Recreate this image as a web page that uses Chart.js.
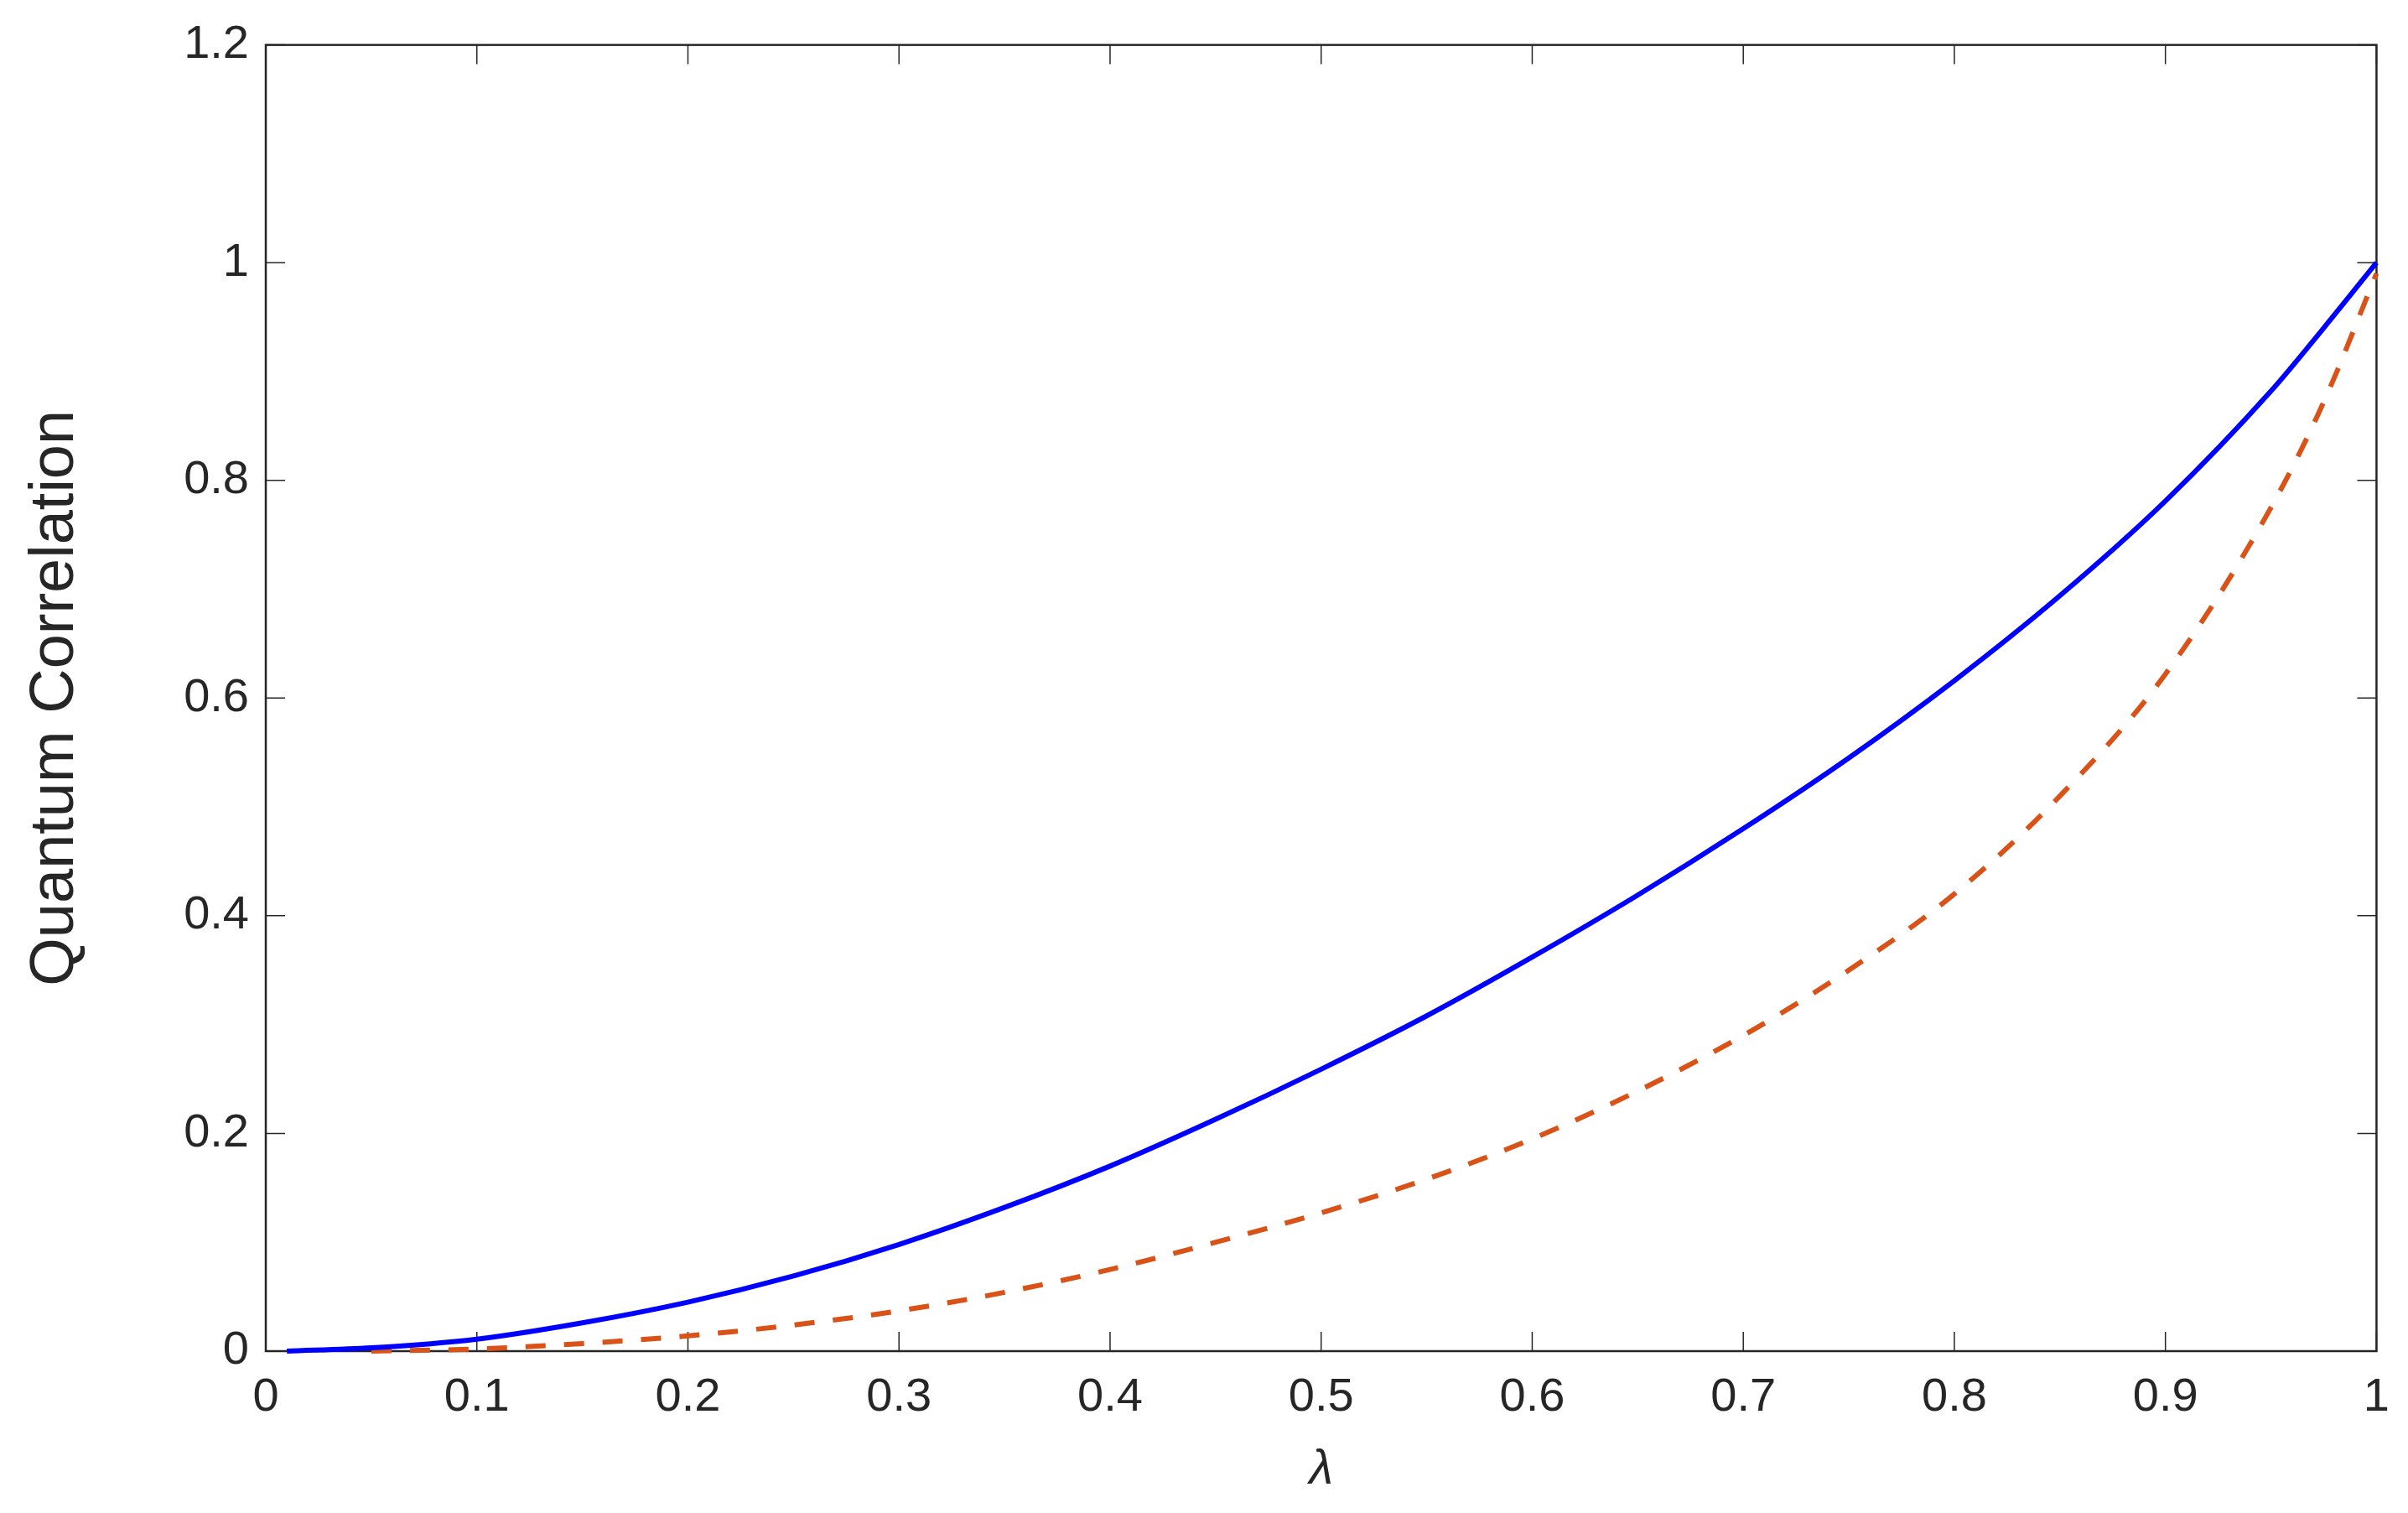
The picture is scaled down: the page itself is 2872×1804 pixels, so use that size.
<!DOCTYPE html>
<html lang="en">
<head>
    <meta charset="UTF-8">
    <title>Quantum Correlation vs lambda</title>
    <script src="https://cdn.jsdelivr.net/npm/chart.js@4.4.4/dist/chart.umd.min.js"></script>
    <style>
        html, body {
            margin: 0;
            padding: 0;
            background-color: #ffffff;
        }
        #chart-container {
            width: 2872px;
            height: 1804px;
        }
    </style>
</head>
<body>
    <div id="chart-container">
        <canvas id="qc-chart"></canvas>
    </div>

    <script>
        // Solid blue curve
        const blueLambda = [0.01, 0.05, 0.1, 0.15, 0.2, 0.25, 0.3, 0.35, 0.4, 0.45, 0.5,
                            0.55, 0.6, 0.65, 0.7, 0.75, 0.8, 0.85, 0.9, 0.95, 0.975, 1.0];
        const blueValues = [0.0, 0.003, 0.011, 0.026, 0.045, 0.069, 0.098, 0.132, 0.17, 0.213, 0.259,
                            0.308, 0.362, 0.419, 0.48, 0.545, 0.616, 0.694, 0.781, 0.882, 0.94, 1.0];

        // Dashed orange curve
        const redLambda = [0.05, 0.1, 0.15, 0.2, 0.25, 0.3, 0.35, 0.4, 0.45, 0.5, 0.55,
                           0.6, 0.65, 0.7, 0.75, 0.8, 0.85, 0.9, 0.95, 0.975, 1.0];
        const redValues = [0.0, 0.002, 0.007, 0.014, 0.024, 0.037, 0.054, 0.075, 0.1, 0.127, 0.158,
                           0.195, 0.239, 0.29, 0.35, 0.42, 0.51, 0.622, 0.775, 0.872, 0.99];

        // Axis ticks
        const xTicks = [0, 0.1, 0.2, 0.3, 0.4, 0.5, 0.6, 0.7, 0.8, 0.9, 1];
        const yTicks = [0, 0.2, 0.4, 0.6, 0.8, 1, 1.2];

        const axisColor = '#262626';
        const fontFamily = '"Liberation Sans", Arial, Helvetica, sans-serif';
        const TICK_LEN = 23;

        function toPoints(xs, ys) {
            return xs.map((x, i) => ({ x: x, y: ys[i] }));
        }

        // MATLAB-like box with inward ticks on all four sides
        const boxTicks = {
            id: 'boxTicks',
            beforeDatasetsDraw(chart) {
                const { ctx, chartArea: a, scales: { x, y } } = chart;
                ctx.save();
                ctx.strokeStyle = axisColor;
                ctx.lineWidth = 1.5;
                ctx.beginPath();
                x.ticks.forEach(t => {
                    const px = x.getPixelForValue(t.value);
                    ctx.moveTo(px, a.bottom);
                    ctx.lineTo(px, a.bottom - TICK_LEN);
                    ctx.moveTo(px, a.top);
                    ctx.lineTo(px, a.top + TICK_LEN);
                });
                y.ticks.forEach(t => {
                    const py = y.getPixelForValue(t.value);
                    ctx.moveTo(a.left, py);
                    ctx.lineTo(a.left + TICK_LEN, py);
                    ctx.moveTo(a.right, py);
                    ctx.lineTo(a.right - TICK_LEN, py);
                });
                ctx.stroke();
                ctx.lineWidth = 2.5;
                ctx.strokeRect(a.left, a.top, a.right - a.left, a.bottom - a.top);
                ctx.restore();
            }
        };

        const ctx = document.getElementById('qc-chart').getContext('2d');
        new Chart(ctx, {
            type: 'line',
            data: {
                datasets: [
                    {
                        label: 'solid',
                        data: toPoints(blueLambda, blueValues),
                        borderColor: '#0000ff',
                        borderWidth: 6,
                        pointRadius: 0,
                        cubicInterpolationMode: 'monotone',
                        fill: false,
                        clip: false
                    },
                    {
                        label: 'dashed',
                        data: toPoints(redLambda, redValues),
                        borderColor: '#d95319',
                        borderWidth: 6,
                        borderDash: [24, 22],
                        pointRadius: 0,
                        cubicInterpolationMode: 'monotone',
                        fill: false,
                        clip: false
                    }
                ]
            },
            options: {
                responsive: true,
                maintainAspectRatio: false,
                devicePixelRatio: 1,
                animation: false,
                layout: {
                    padding: { top: 51, right: 29, bottom: 0, left: 0 }
                },
                plugins: {
                    legend: { display: false },
                    tooltip: { enabled: false }
                },
                scales: {
                    x: {
                        type: 'linear',
                        min: 0,
                        max: 1,
                        afterBuildTicks: scale => {
                            scale.ticks = xTicks.map(v => ({ value: v }));
                        },
                        afterFit: scale => { scale.height = 193; },
                        grid: { display: false, drawTicks: false },
                        border: { display: false },
                        ticks: {
                            color: axisColor,
                            padding: 22,
                            maxRotation: 0,
                            font: { family: fontFamily, size: 56 },
                            callback: v => String(+v.toFixed(1))
                        },
                        title: {
                            display: true,
                            text: 'λ',
                            color: axisColor,
                            padding: { top: 0, bottom: 16 },
                            font: { family: fontFamily, size: 58, style: 'italic' }
                        }
                    },
                    y: {
                        type: 'linear',
                        min: 0,
                        max: 1.2,
                        afterBuildTicks: scale => {
                            scale.ticks = yTicks.map(v => ({ value: v }));
                        },
                        afterFit: scale => { scale.width = 317; },
                        grid: { display: false, drawTicks: false },
                        border: { display: false },
                        ticks: {
                            color: axisColor,
                            padding: 20,
                            font: { family: fontFamily, size: 56 },
                            callback: v => String(+v.toFixed(1))
                        },
                        title: {
                            display: true,
                            text: 'Quantum Correlation',
                            color: axisColor,
                            padding: { top: 22, bottom: 0 },
                            font: { family: fontFamily, size: 74 }
                        }
                    }
                }
            },
            plugins: [boxTicks]
        });
    </script>
</body>
</html>
